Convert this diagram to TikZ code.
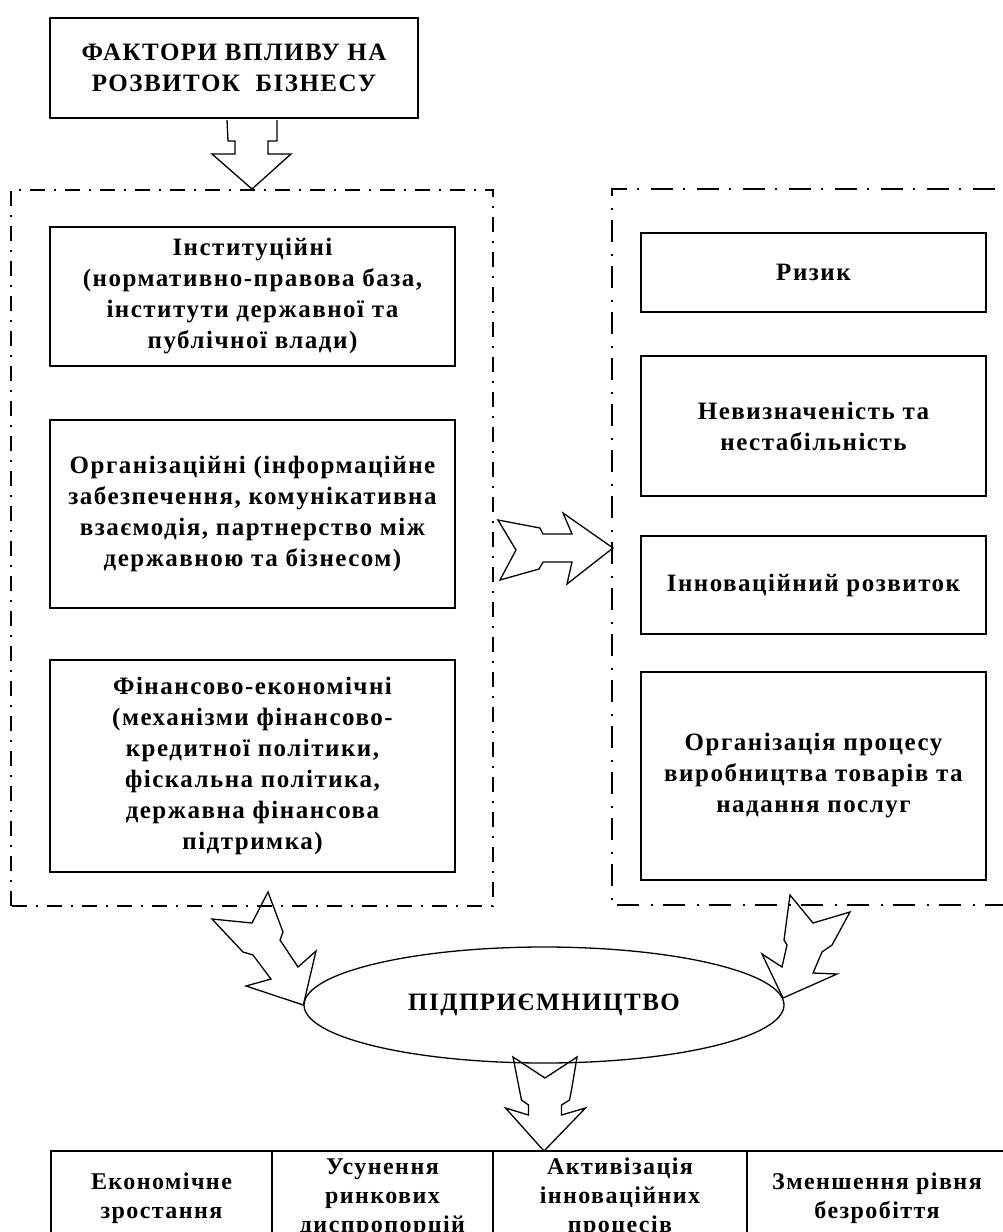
\documentclass[tikz,border=0pt]{standalone}
\usepackage{fontspec}
\setmainfont{Liberation Serif}[LetterSpace=6]
\usetikzlibrary{shapes.geometric}
\begin{document}
\begin{tikzpicture}[x=1pt,y=-1pt,
  boxst/.style={draw, line width=1.6pt, inner sep=0pt},
  txt/.style={align=center, font=\bfseries\fontsize{25}{31}\selectfont},
  smalltxt/.style={align=center, font=\bfseries\fontsize{24}{29}\selectfont},
  frameL/.style={line width=1.5pt, dash pattern=on 15pt off 9pt on 2pt off 9pt},
  frameR/.style={line width=1.5pt, dash pattern=on 22pt off 10pt on 2pt off 12pt},
  blockarrow/.style={draw, line width=1.3pt, line join=miter}]
\useasboundingbox (0,0) rectangle (1003,1232);

% title
\node[boxst, minimum width=368pt, minimum height=100pt] (title) at (234,68) {};
\node[txt] (titletext) at (title.center) {ФАКТОРИ ВПЛИВУ НА\\РОЗВИТОК\ \ БІЗНЕСУ};

% frames
\draw[frameL] (11,906) -- (11,190) -- (493,190) -- (493,906) -- cycle;
\draw[frameR] (1007,905) -- (612,905) -- (612,189) -- (1007,189);

% left boxes
\node[boxst, minimum width=405pt, minimum height=139pt] (inst) at (252.5,296.5) {};
\node[txt] at (inst.center) {Інституційні\\(нормативно-правова база,\\інститути державної та\\публічної влади)};
\node[boxst, minimum width=405pt, minimum height=188pt] (org) at (252.5,514) {};
\node[txt] at (org.center) {Організаційні (інформаційне\\забезпечення, комунікативна\\взаємодія, партнерство між\\державною та бізнесом)};
\node[boxst, minimum width=405pt, minimum height=212pt] (fin) at (252.5,766) {};
\node[txt] at (fin.center) {Фінансово-економічні\\(механізми фінансово-\\кредитної політики,\\фіскальна політика,\\державна фінансова\\підтримка)};

% right boxes
\node[boxst, minimum width=345pt, minimum height=79pt] (risk) at (813.5,272.5) {};
\node[txt] at (risk.center) {Ризик};
\node[boxst, minimum width=345pt, minimum height=140pt] (unc) at (813.5,426) {};
\node[txt] at (unc.center) {Невизначеність та\\нестабільність};
\node[boxst, minimum width=345pt, minimum height=98pt] (inn) at (813.5,585) {};
\node[txt] at (inn.center) {Інноваційний розвиток};
\node[boxst, minimum width=345pt, minimum height=208pt] (prod) at (813.5,776) {};
\node[txt] at (prod.center) {Організація процесу\\виробництва товарів та\\надання послуг};

% ellipse
\node[draw, ellipse, line width=1.3pt, minimum width=480pt, minimum height=116pt,
      font=\bfseries\fontsize{25}{31}\selectfont] (ent) at (544,1005) {ПІДПРИЄМНИЦТВО};

% bottom cells
\node[boxst, minimum width=221pt, minimum height=94pt] (c1) at (161.5,1198) {};
\node[boxst, minimum width=221pt, minimum height=94pt] (c2) at (382.5,1198) {};
\node[boxst, minimum width=254pt, minimum height=94pt] (c3) at (620,1198) {};
\node[boxst, minimum width=260pt, minimum height=94pt] (c4) at (877,1198) {};
\node[smalltxt] at (c1.center) {Економічне\\зростання};
\node[smalltxt] at (c2.center) {Усунення\\ринкових\\диспропорцій};
\node[smalltxt] at (c3.center) {Активізація\\інноваційних\\процесів};
\node[smalltxt] at (c4.center) {Зменшення рівня\\безробіття};

% block arrows
% title -> left frame
\draw[blockarrow] (227,120) -- (228,141) -- (235,141) -- (235,154) -- (212,154) -- (252,189)
   -- (291,154) -- (268,154) -- (268,141) -- (277,141) -- (277,120);
% left frame -> right frame
\draw[blockarrow] (498,520) -- (540,528) -- (543,534) -- (572,534) -- (563,513) -- (613,548)
   -- (567,584) -- (572,562) -- (543,562) -- (539,569) -- (500,580) -- (516,550) -- cycle;
% left frame -> ellipse
\draw[blockarrow] (268,892) -- (283,932) -- (280,940) -- (298,967) -- (316,951) -- (ent.west)
   -- (246,986) -- (271,979) -- (253,955) -- (243,952) -- (212,919) -- (252,923) -- cycle;
% right frame -> ellipse
\draw[blockarrow] (790,895) -- (813,923) -- (850,912) -- (832,945) -- (822,952) -- (813,973)
   -- (837,974) -- (783,998) -- (762,954) -- (782,967) -- (787,945) -- (784,940) -- cycle;
% ellipse -> bottom row
\draw[blockarrow] (513,1057) -- (519.5,1090) -- (521.5,1100) -- (528.5,1105) -- (528.5,1115)
   -- (505.5,1108) -- (544,1151) -- (585.5,1108) -- (561.5,1115) -- (561.5,1105) -- (569.5,1100)
   -- (571.5,1090) -- (577,1057) -- (545,1078) -- cycle;
\end{tikzpicture}
\end{document}
